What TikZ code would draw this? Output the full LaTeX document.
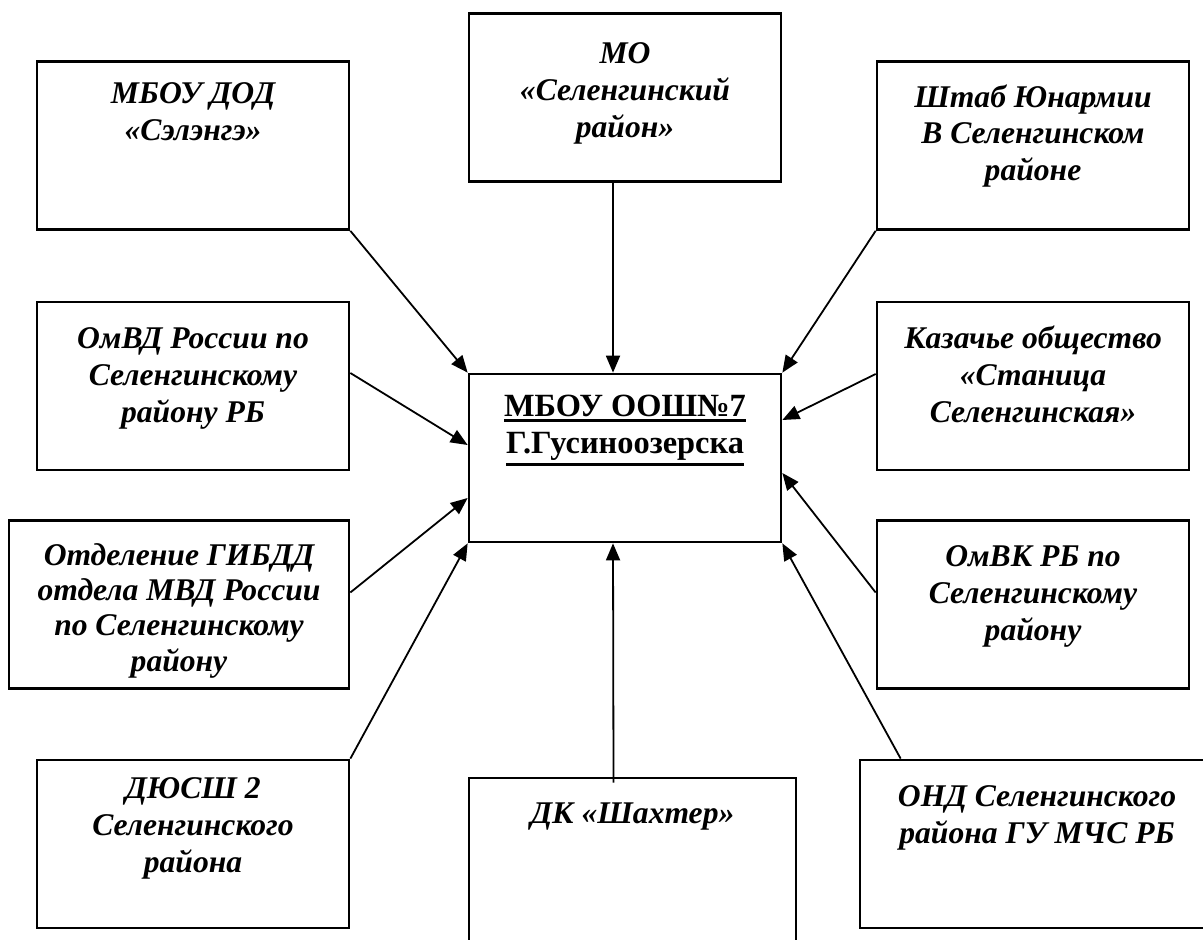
\documentclass[tikz,border=0pt]{standalone}
\usepackage{fontspec}
\setmainfont{Liberation Serif}
\newcommand{\thickul}[1]{\leavevmode\vtop{\hbox{#1}\kern1.2pt\hrule height 1.5pt}}
\usetikzlibrary{arrows.meta,positioning}

\begin{document}
\begin{tikzpicture}
[x=0.5pt, y=-0.5pt,
box/.style={draw, line width=1.35pt, minimum width=156pt, minimum height=84pt, inner sep=0pt},
lbl/.style={align=center, inner sep=0pt, font=\fontsize{15.8}{18.4}\selectfont\bfseries\itshape},
mainlbl/.style={align=center, inner sep=0pt, font=\fontsize{16.2}{18.6}\selectfont\bfseries},
link/.style={line width=0.9pt, -{Triangle[length=8.5pt,width=7pt]}}]
\path[use as bounding box, clip] (0,0) rectangle (1203,940);
% boxes
\node[box] (ctr) at (625,458) {};
\node[box] (sel) at (193,145.5) {};
\node[box] (mo) at (625,97.5) {};
\node[box] (shtab) at (1033,145.5) {};
\node[box] (omvd) at (193,386) {};
\node[box] (kaz) at (1033,386) {};
\node[box, minimum width=170pt] (gibdd) at (179,604.5) {};
\node[box] (omvk) at (1033,604.5) {};
\node[box] (dyussh) at (193,844) {};
\node[box, minimum width=163.5pt, minimum height=91pt] (dk) at (632.5,869) {};
\node[box, minimum width=177pt] (ond) at (1037,844) {};
% texts
\node[mainlbl, below=11pt of ctr.north] (ctr-t) {\thickul{МБОУ ООШ№7}\\\thickul{Г.Гусиноозерска}};
\node[lbl, below=11pt of sel.north] (sel-t) {МБОУ ДОД\\«Сэлэнгэ»};
\node[lbl, below=15pt of mo.north] (mo-t) {МО\\«Селенгинский\\район»};
\node[lbl, below=12pt of shtab.north] (shtab-t) {Штаб Юнармии\\В Селенгинском\\районе};
\node[lbl, below=13.5pt of omvd.north] (omvd-t) {ОмВД России по\\Селенгинскому\\району РБ};
\node[lbl, below=12.5pt of kaz.north] (kaz-t) {Казачье общество\\«Станица\\Селенгинская»};
\node[lbl, font=\fontsize{15.8}{17.6}\selectfont\bfseries\itshape, below=12pt of gibdd.north] (gibdd-t) {Отделение ГИБДД\\отдела МВД России\\по Селенгинскому\\району};
\node[lbl, below=13pt of omvk.north] (omvk-t) {ОмВК РБ по\\Селенгинскому\\району};
\node[lbl, below=9.5pt of dyussh.north] (dyussh-t) {ДЮСШ 2\\Селенгинского\\района};
\node[lbl, below=13pt of dk.north] (dk-t) {ДК «Шахтер»};
\node[lbl, below=13.5pt of ond.north] (ond-t) {ОНД Селенгинского\\района ГУ МЧС РБ};
% links
\draw[link] (sel.south east) -- (ctr.north west);
\draw[link] ([xshift=-6pt]mo.south) -- ([xshift=-6pt]ctr.north);
\draw[link] (shtab.south west) -- (ctr.north east);
\draw[link] ([yshift=6.5pt]omvd.east) -- ([yshift=6.5pt]ctr.west);
\draw[link] ([yshift=6pt]gibdd.east) -- ([yshift=-20pt]ctr.west);
\draw[link] (dyussh.north east) -- (ctr.south west);
\draw[link] ([xshift=-9.5pt,yshift=-3pt]dk.north) -- ([xshift=-6pt]ctr.south);
\draw[link] ([yshift=6pt]kaz.west) -- ([yshift=19pt]ctr.east);
\draw[link] ([yshift=6pt]omvk.west) -- ([yshift=-7.5pt]ctr.east);
\draw[link] ([xshift=21pt]ond.north west) -- (ctr.south east);
\end{tikzpicture}
\end{document}
